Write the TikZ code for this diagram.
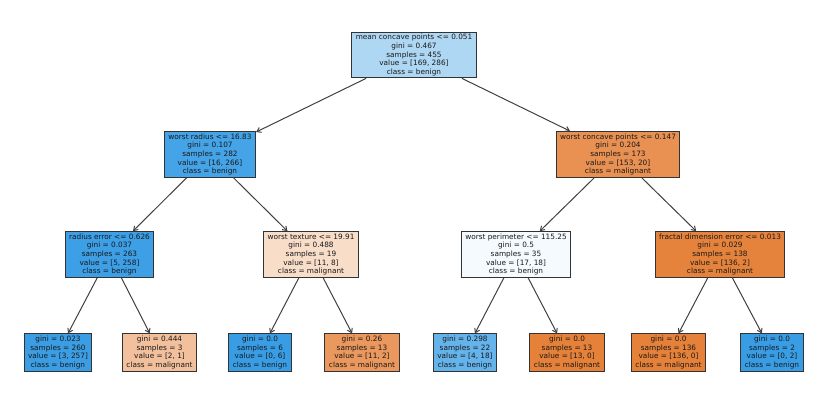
\documentclass[tikz,border=0pt]{standalone}
\usepackage{fontspec}
\setmainfont{DejaVu Sans}
\usetikzlibrary{arrows.meta}
\definecolor{c0}{RGB}{174,215,244}
\definecolor{c1}{RGB}{69,163,231}
\definecolor{c2}{RGB}{232,145,83}
\definecolor{c3}{RGB}{61,159,230}
\definecolor{c4}{RGB}{248,221,201}
\definecolor{c5}{RGB}{244,250,254}
\definecolor{c6}{RGB}{229,131,60}
\definecolor{c7}{RGB}{59,158,229}
\definecolor{c8}{RGB}{242,192,156}
\definecolor{c9}{RGB}{57,157,229}
\definecolor{c10}{RGB}{234,152,93}
\definecolor{c11}{RGB}{101,179,235}
\definecolor{c12}{RGB}{229,129,57}
\tikzset{
  tnode/.style={draw=black!80, line width=0.75pt, align=center, inner xsep=3pt, inner ysep=1.6pt,
    font=\fontsize{5.5}{6.45}\selectfont, text=black!90},
  edge/.style={draw=black!75, line width=0.75pt, -{Straight Barb[length=3pt,width=4pt]}}
}
\begin{document}
\begin{tikzpicture}[x=0.75pt,y=-0.75pt]
\useasboundingbox (0,0) rectangle (828,409);
\node[tnode, fill=c0] (n0) at (414,55) {mean concave points <= 0.051\\gini = 0.467\\samples = 455\\value = [169, 286]\\class = benign};
\node[tnode, fill=c1] (n1) at (210,154.5) {worst radius <= 16.83\\gini = 0.107\\samples = 282\\value = [16, 266]\\class = benign};
\node[tnode, fill=c2] (n8) at (618,154.5) {worst concave points <= 0.147\\gini = 0.204\\samples = 173\\value = [153, 20]\\class = malignant};
\node[tnode, fill=c3] (n2) at (109.5,254.5) {radius error <= 0.626\\gini = 0.037\\samples = 263\\value = [5, 258]\\class = benign};
\node[tnode, fill=c4] (n5) at (311,254.5) {worst texture <= 19.91\\gini = 0.488\\samples = 19\\value = [11, 8]\\class = malignant};
\node[tnode, fill=c5] (n9) at (516,254.5) {worst perimeter <= 115.25\\gini = 0.5\\samples = 35\\value = [17, 18]\\class = benign};
\node[tnode, fill=c6] (n12) at (720,254.5) {fractal dimension error <= 0.013\\gini = 0.029\\samples = 138\\value = [136, 2]\\class = malignant};
\node[tnode, fill=c7] (n3) at (58,352.5) {gini = 0.023\\samples = 260\\value = [3, 257]\\class = benign};
\node[tnode, fill=c8] (n4) at (159.5,352.5) {gini = 0.444\\samples = 3\\value = [2, 1]\\class = malignant};
\node[tnode, fill=c9] (n6) at (260,352.5) {gini = 0.0\\samples = 6\\value = [0, 6]\\class = benign};
\node[tnode, fill=c10] (n7) at (362,352.5) {gini = 0.26\\samples = 13\\value = [11, 2]\\class = malignant};
\node[tnode, fill=c11] (n10) at (465,352.5) {gini = 0.298\\samples = 22\\value = [4, 18]\\class = benign};
\node[tnode, fill=c12] (n11) at (567,352.5) {gini = 0.0\\samples = 13\\value = [13, 0]\\class = malignant};
\node[tnode, fill=c12] (n13) at (668.5,352.5) {gini = 0.0\\samples = 136\\value = [136, 0]\\class = malignant};
\node[tnode, fill=c9] (n14) at (772,352.5) {gini = 0.0\\samples = 2\\value = [0, 2]\\class = benign};
\draw[edge] (n0) -- (n1);
\draw[edge] (n0) -- (n8);
\draw[edge] (n1) -- (n2);
\draw[edge] (n1) -- (n5);
\draw[edge] (n8) -- (n9);
\draw[edge] (n8) -- (n12);
\draw[edge] (n2) -- (n3);
\draw[edge] (n2) -- (n4);
\draw[edge] (n5) -- (n6);
\draw[edge] (n5) -- (n7);
\draw[edge] (n9) -- (n10);
\draw[edge] (n9) -- (n11);
\draw[edge] (n12) -- (n13);
\draw[edge] (n12) -- (n14);
\end{tikzpicture}
\end{document}
